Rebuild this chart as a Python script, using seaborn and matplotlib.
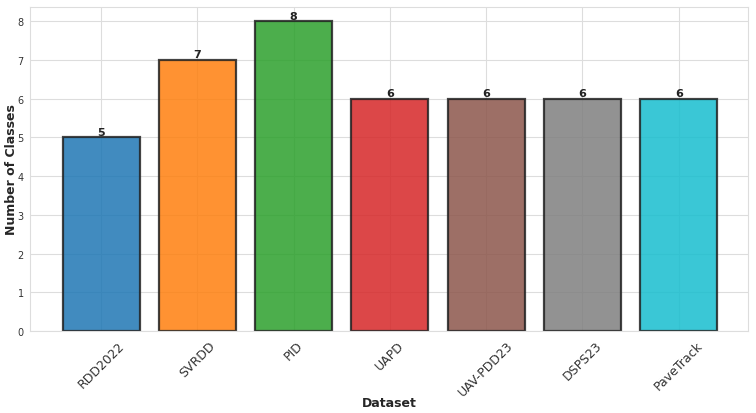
import matplotlib
matplotlib.use("Agg")
import matplotlib.pyplot as plt
import seaborn as sns
import pandas as pd

datasets = ["RDD2022", "SVRDD", "PID", "UAPD", "UAV-PDD23", "DSPS23", "PaveTrack"]
num_classes = [5, 7, 8, 6, 6, 6, 6]
bar_colors = ["#1f77b4", "#ff7f0e", "#2ca02c", "#d62728", "#8c564b", "#7f7f7f", "#17becf"]

sns.set_style("whitegrid")
plt.rcParams['font.family'] = ['DejaVu Sans']

df = pd.DataFrame({"Dataset": datasets, "Classes": num_classes})

fig = plt.figure(figsize=(7.56, 4.14), dpi=100)
ax = fig.add_axes([30/756, 1 - 332/414, (748-30)/756, (332-8)/414])
sns.barplot(data=df, x="Dataset", y="Classes", hue="Dataset", palette=bar_colors,
            legend=False, ax=ax, alpha=0.85, edgecolor="#222222", linewidth=1.6,
            width=0.8, saturation=1)
ax.set_axisbelow(True)
for sp in ax.spines.values():
    sp.set_color("#dddddd")
ax.grid(True, color="#dddddd", linewidth=0.8)
ax.set_ylim(0, 8.37)
ax.set_xlim(-0.74, 6.72)
for i, v in enumerate(num_classes):
    ax.text(i, v + 0.02, str(v), ha="center", va="bottom", fontsize=8, fontweight="bold", color="#222222")
ax.set_xlabel("Dataset", fontsize=9, fontweight="bold")
ax.set_ylabel("Number of Classes", fontsize=9, fontweight="bold")
ax.xaxis.set_label_coords(0.5, -0.2)
ax.yaxis.set_label_coords(-0.017, 0.5)
ax.tick_params(axis="y", labelsize=7, colors="#333333", pad=1)
ax.tick_params(axis="x", labelsize=9, colors="#333333", pad=2)
plt.setp(ax.get_xticklabels(), rotation=45)
fig.savefig("out.png", dpi=100)
